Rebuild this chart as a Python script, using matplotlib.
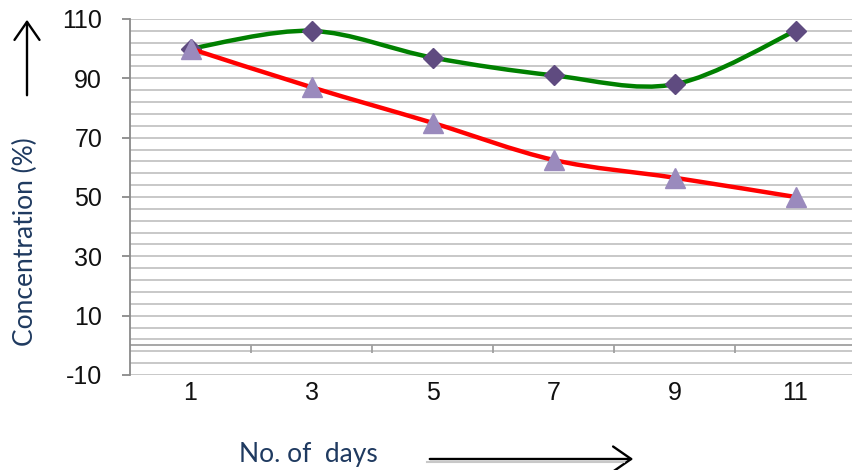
import numpy as np
import matplotlib
matplotlib.use("Agg")
import matplotlib.pyplot as plt
from matplotlib.path import Path
from matplotlib.patches import PathPatch, FancyArrowPatch
from matplotlib.lines import Line2D

# data
days = ["1", "3", "5", "7", "9", "11"]
green_vals = [100, 106, 97, 91, 88, 106]
red_vals = [100, 87, 75, 62.5, 56.5, 50]

GREEN = "#008000"
RED = "#ff0000"
DIAMOND = "#5f4b80"
TRIANGLE = "#9a8abd"
NAVY = "#1f3a60"
GRID = "#c4c4c4"


def smooth_path(xs, ys):
    # excel style smoothed line: cubic bezier segments through every point
    pts = np.column_stack([xs, ys]).astype(float)
    n = len(pts)
    verts = [pts[0]]
    codes = [Path.MOVETO]
    for i in range(n - 1):
        p_prev = pts[i - 1] if i > 0 else pts[i]
        p_next2 = pts[i + 2] if i + 2 < n else pts[i + 1]
        c1 = pts[i] + (pts[i + 1] - p_prev) / 6.0
        c2 = pts[i + 1] - (p_next2 - pts[i]) / 6.0
        verts += [c1, c2, pts[i + 1]]
        codes += [Path.CURVE4] * 3
    return Path(verts, codes)


plt.rcParams["font.family"] = ["Liberation Sans", "DejaVu Sans"]
plt.rcParams["axes.unicode_minus"] = False

fig = plt.figure(figsize=(8.52, 4.70), dpi=100)
ax = fig.add_axes([130 / 852, 1 - 375 / 470, 726 / 852, 356 / 470])

x = np.arange(len(days))

# horizontal grid every 4 units
for gy in np.arange(-10, 111, 4):
    ax.axhline(gy, color=GRID, lw=1.3, zorder=0)
# x axis crosses at zero
ax.axhline(0, color="#a0a0a0", lw=1.3, zorder=1)
ax.plot(x[:-1] + 0.5, np.zeros(len(x) - 1), ls="none", marker=3,
        ms=6, mew=1.3, color="#a0a0a0", zorder=1)

ax.add_patch(PathPatch(smooth_path(x, green_vals), fill=False,
                       edgecolor=GREEN, lw=3.2, zorder=2))
ax.plot(x, green_vals, ls="none", marker="D", ms=10, color=DIAMOND,
        zorder=3, clip_on=False)
ax.add_patch(PathPatch(smooth_path(x, red_vals), fill=False,
                       edgecolor=RED, lw=3.2, zorder=4))
ax.plot(x, red_vals, ls="none", marker="^", ms=14, color=TRIANGLE,
        zorder=5, clip_on=False)

ax.set_xlim(-0.5, len(days) - 0.5)
ax.set_ylim(-10, 110)
ax.set_xticks(x)
ax.set_xticklabels(days)
ax.set_yticks(np.arange(-10, 111, 20))
ax.tick_params(axis="x", length=0, pad=4, labelsize=18, labelcolor="#111111")
ax.tick_params(axis="y", length=6, width=1.3, color="#8a8a8a",
               pad=14, labelsize=18, labelcolor="#111111")

for side in ["top", "right", "bottom"]:
    ax.spines[side].set_visible(False)
ax.spines["left"].set_color("#8a8a8a")
ax.spines["left"].set_linewidth(1.3)

# axis titles and the hand drawn arrows
fig.text(25 / 852, 1 - 242 / 470, "Concentration (%)", rotation=90,
         ha="center", va="center", fontsize=19, color=NAVY, family="Lato")
fig.text(308 / 852, 1 - 462 / 470, "No. of  days", ha="center",
         va="baseline", fontsize=19, color=NAVY, family="Lato")

arrow_style = "->,head_length=13,head_width=9"
fig.add_artist(Line2D([427 / 852, 624 / 852], [1 - 462 / 470] * 2,
                      color="#c8c8c8", lw=1.5))
fig.add_artist(FancyArrowPatch(
    (427 / 852, 1 - 459 / 470), (636 / 852, 1 - 459 / 470),
    transform=fig.transFigure, arrowstyle=arrow_style,
    lw=1.7, color="black", mutation_scale=1))
fig.add_artist(FancyArrowPatch(
    (27 / 852, 1 - 98 / 470), (27 / 852, 1 - 17 / 470),
    transform=fig.transFigure, arrowstyle=arrow_style,
    lw=1.7, color="black", mutation_scale=1))

fig.savefig("out.png", dpi=100)
